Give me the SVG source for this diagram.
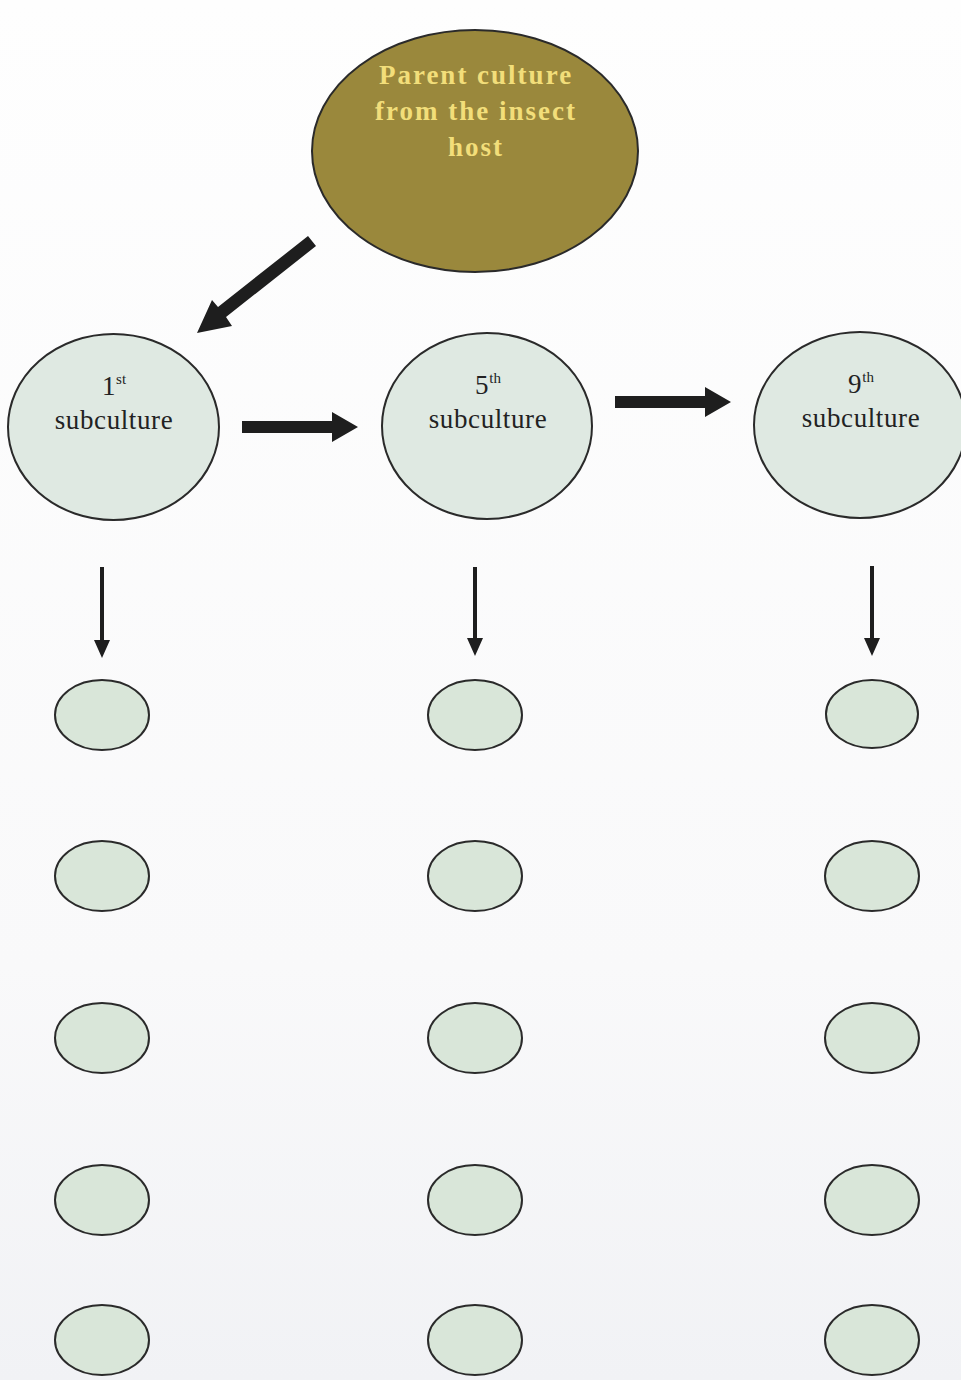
<svg xmlns="http://www.w3.org/2000/svg" width="961" height="1380" viewBox="0 0 961 1380">
<defs>
<linearGradient id="bg" x1="0" y1="0" x2="0" y2="1">
<stop offset="0" stop-color="#fefefe"/>
<stop offset="0.7" stop-color="#f9f9fa"/>
<stop offset="1" stop-color="#f1f2f5"/>
</linearGradient>
</defs>
<style>
.sub{fill:#dfe9e2;stroke:#2a2a2a;stroke-width:2}
.leaf{fill:#d9e6d9;stroke:#2a2a2a;stroke-width:2}
.parent{fill:#9a883c;stroke:#2a2a2a;stroke-width:2}
.pt{font-family:"Liberation Serif",serif;font-weight:bold;font-size:27px;letter-spacing:2px;fill:#f2de7a;text-anchor:middle}
.st{font-family:"Liberation Serif",serif;font-size:27px;letter-spacing:0.6px;fill:#222;text-anchor:middle}
.sup{font-size:15px;letter-spacing:0}
.fat{fill:#1e1e1e}
</style>
<rect width="961" height="1380" fill="url(#bg)"/>
<g id="connectors">
<polygon class="fat" points="308,236 316,246 226,317 232,326 197,333 212,300 218,307"/>
<polygon class="fat" points="242,421 332,421 332,412 358,427 332,442 332,433 242,433"/>
<polygon class="fat" points="615,396 705,396 705,387 731,402 705,417 705,408 615,408"/>
<polygon class="fat" points="100,567 104,567 104,640 110,640 102,658 94,640 100,640"/>
<polygon class="fat" points="473,567 477,567 477,638 483,638 475,656 467,638 473,638"/>
<polygon class="fat" points="870,566 874,566 874,638 880,638 872,656 864,638 870,638"/>
</g>
<g id="parent">
<ellipse class="parent" cx="475" cy="151" rx="163" ry="121"/>
<text class="pt" x="476" y="84">Parent culture</text>
<text class="pt" x="476" y="120">from the insect</text>
<text class="pt" x="476" y="156">host</text>
</g>
<g id="sub1">
<ellipse class="sub" cx="113.5" cy="427" rx="105.5" ry="93"/>
<text class="st" x="114" y="395">1<tspan class="sup" dy="-11">st</tspan></text>
<text class="st" x="114" y="429">subculture</text>
</g>
<g id="sub5">
<ellipse class="sub" cx="487" cy="426" rx="105" ry="93"/>
<text class="st" x="488" y="394">5<tspan class="sup" dy="-11">th</tspan></text>
<text class="st" x="488" y="428">subculture</text>
</g>
<g id="sub9">
<ellipse class="sub" cx="860" cy="425" rx="106" ry="93"/>
<text class="st" x="861" y="393">9<tspan class="sup" dy="-11">th</tspan></text>
<text class="st" x="861" y="427">subculture</text>
</g>
<g id="c1r1"><ellipse class="leaf" cx="102" cy="715" rx="47" ry="35"/></g>
<g id="c1r2"><ellipse class="leaf" cx="102" cy="876" rx="47" ry="35"/></g>
<g id="c1r3"><ellipse class="leaf" cx="102" cy="1038" rx="47" ry="35"/></g>
<g id="c1r4"><ellipse class="leaf" cx="102" cy="1200" rx="47" ry="35"/></g>
<g id="c1r5"><ellipse class="leaf" cx="102" cy="1340" rx="47" ry="35"/></g>
<g id="c2r1"><ellipse class="leaf" cx="475" cy="715" rx="47" ry="35"/></g>
<g id="c2r2"><ellipse class="leaf" cx="475" cy="876" rx="47" ry="35"/></g>
<g id="c2r3"><ellipse class="leaf" cx="475" cy="1038" rx="47" ry="35"/></g>
<g id="c2r4"><ellipse class="leaf" cx="475" cy="1200" rx="47" ry="35"/></g>
<g id="c2r5"><ellipse class="leaf" cx="475" cy="1340" rx="47" ry="35"/></g>
<g id="c3r1"><ellipse class="leaf" cx="872" cy="714" rx="46" ry="34"/></g>
<g id="c3r2"><ellipse class="leaf" cx="872" cy="876" rx="47" ry="35"/></g>
<g id="c3r3"><ellipse class="leaf" cx="872" cy="1038" rx="47" ry="35"/></g>
<g id="c3r4"><ellipse class="leaf" cx="872" cy="1200" rx="47" ry="35"/></g>
<g id="c3r5"><ellipse class="leaf" cx="872" cy="1340" rx="47" ry="35"/></g>
</svg>
